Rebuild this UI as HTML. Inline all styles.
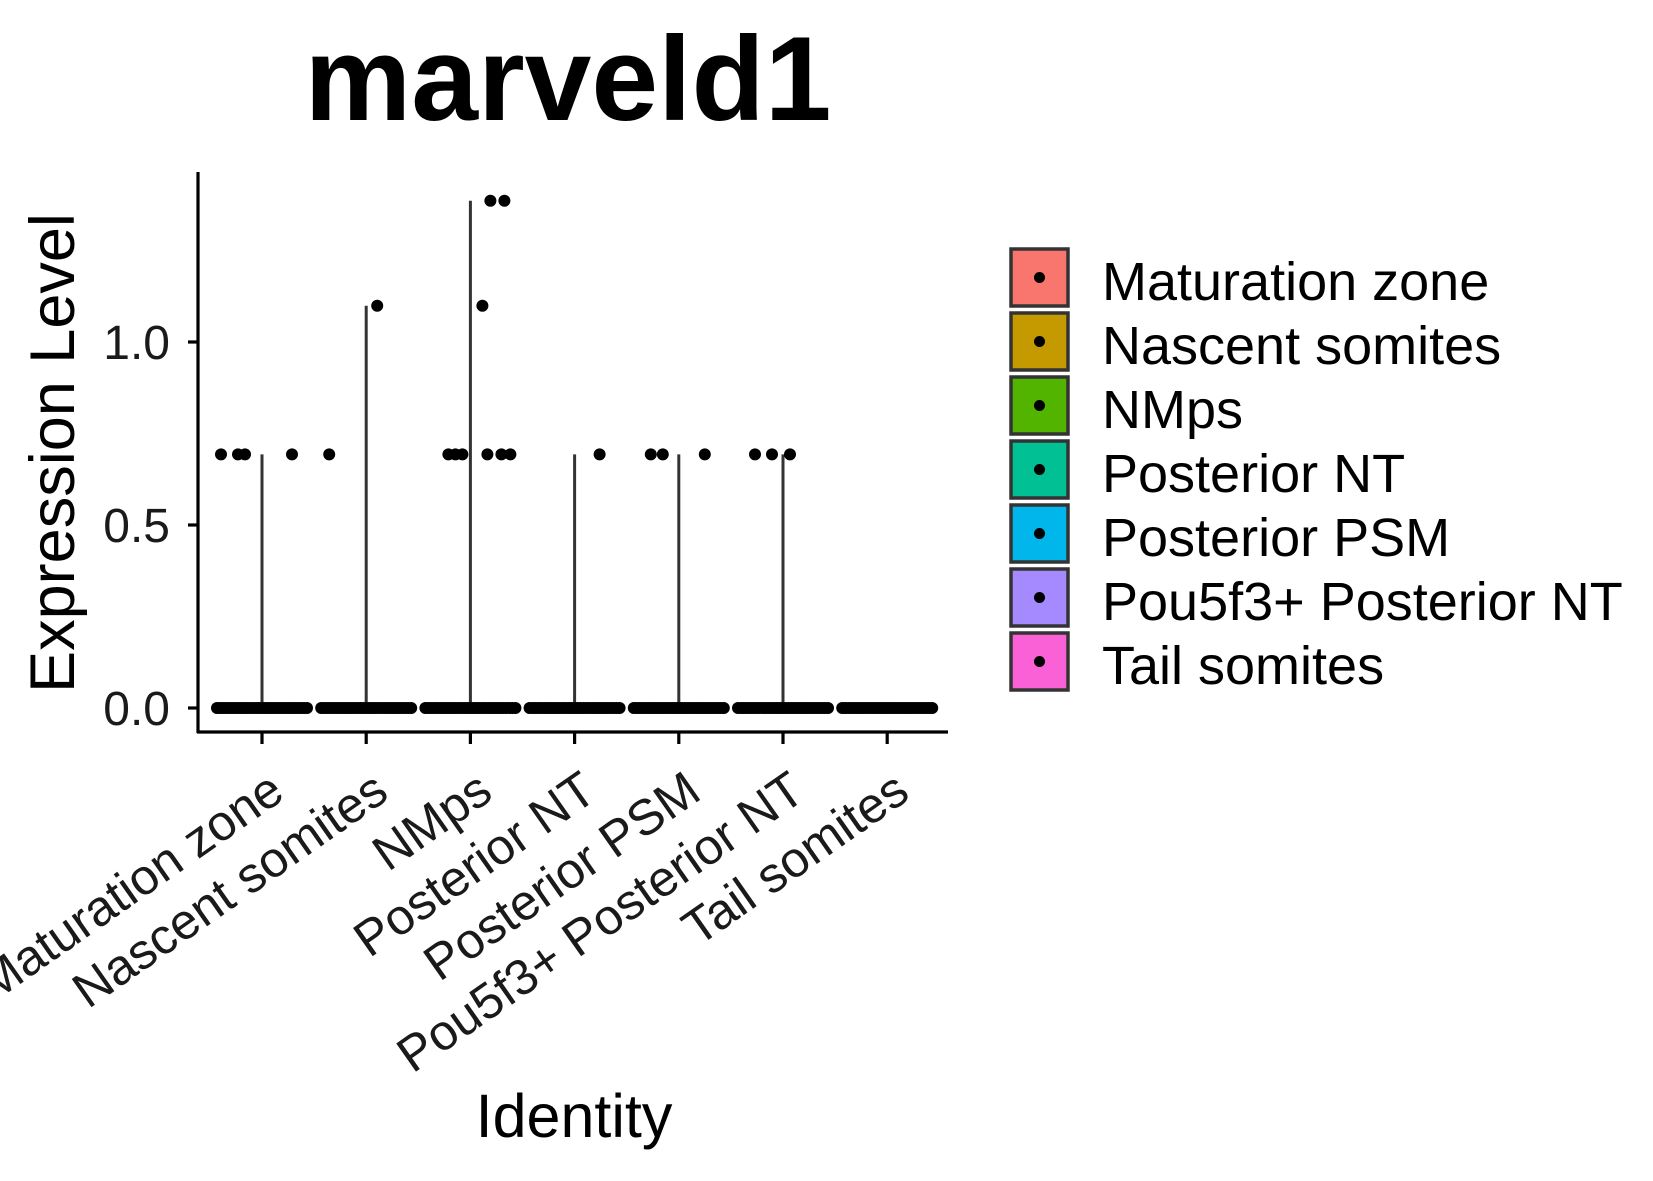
<!DOCTYPE html>
<html><head><meta charset="utf-8"><style>
html,body{margin:0;padding:0;background:#fff}
svg{display:block;font-family:"Liberation Sans",sans-serif}
</style></head><body>
<svg id="chart" width="1653" height="1181" viewBox="0 0 1653 1181">
<text x="568" y="120" font-size="120" font-weight="bold" text-anchor="middle">marveld1</text>
<g id="plot"></g>
<text transform="translate(74,453) rotate(-90)" font-size="63" text-anchor="middle">Expression Level</text>
<text x="574" y="1137" font-size="61" text-anchor="middle">Identity</text>
<g id="legend"></g>
</svg>
<script>
const categories = ["Maturation zone","Nascent somites","NMps","Posterior NT","Posterior PSM","Pou5f3+ Posterior NT","Tail somites"];
const colors = ["#F8766D","#C49A00","#53B400","#00C094","#00B6EB","#A58AFF","#FB61D7"];
const nonzeroValues = [
  [0.693,0.693,0.693,0.693],
  [0.693,1.099],
  [1.386,1.386,1.099,0.693,0.693,0.693,0.693,0.693,0.693],
  [0.693],
  [0.693,0.693,0.693],
  [0.693,0.693,0.693],
  []
];
const nonzeroJitter = [
  [-41,-24,-17,30],
  [-37,11],
  [20,34,12,-22,-15,-8,17,31,40],
  [25],
  [-28,-16,26],
  [-28,-11,7],
  []
];
const yTicks = [0, 0.5, 1.0];
const yTickLabels = ["0.0","0.5","1.0"];

const NS = "http://www.w3.org/2000/svg";
const plot = document.getElementById('plot');
const yScale = v => 708 - v * 366;
const xScale = i => 262 + i * 104.2;
function mk(tag, attrs, parent){const e=document.createElementNS(NS,tag);for(const k in attrs)e.setAttribute(k,attrs[k]);parent.appendChild(e);return e;}

const ya = mk('line',{x1:198,y1:172,x2:198,y2:733,stroke:'#000','stroke-width':3.2},plot);


const xa = mk('line',{x1:197,y1:732,x2:948,y2:732,stroke:'#000','stroke-width':3.2},plot);



yTicks.forEach((v,i)=>{
  const t = mk('line',{x1:188,y1:yScale(v),x2:198,y2:yScale(v),stroke:'#000','stroke-width':3.2},plot);
  
  
  const l = mk('text',{x:170,y:yScale(v)+17,'font-size':48,'text-anchor':'end',fill:'#1a1a1a'},plot);
  l.textContent = yTickLabels[i];
  
  
});

categories.forEach((c,i)=>{
  const cx = xScale(i);
  const t = mk('line',{x1:cx,y1:732,x2:cx,y2:744,stroke:'#000','stroke-width':3.2},plot);
  
  
  const l = mk('text',{transform:`translate(${cx+4},768) rotate(-35)`,'font-size':50,'text-anchor':'end',dy:'0.72em',fill:'#1a1a1a'},plot);
  l.textContent = c;
  
  
  const vals = nonzeroValues[i];
  const mx = vals.length ? Math.max(...vals) : 0;
  if (mx > 0) {
    const v = mk('line',{x1:cx,y1:yScale(mx),x2:cx,y2:yScale(0),stroke:'#333','stroke-width':3},plot);
    
    
  }
  for (let dx=-45; dx<=45; dx+=3) {
    const p = mk('circle',{cx:cx+dx,cy:yScale(0),r:6,fill:'#000'},plot);
    
    
  }
  vals.forEach((v,j)=>{
    const p = mk('circle',{cx:cx+nonzeroJitter[i][j],cy:yScale(v),r:6,fill:'#000'},plot);
    
    
  });
});

const legend = document.getElementById('legend');
categories.forEach((c,i)=>{
  const y = 247 + i*64;
  const g = mk('g',{},legend);
  
  
  mk('rect',{x:1011,y:y+2,width:57,height:57,fill:colors[i],stroke:'#333','stroke-width':3.5},g);
  mk('circle',{cx:1039.5,cy:y+30.5,r:5.5,fill:'#000'},g);
  const t = mk('text',{x:1102,y:y+53,'font-size':54},g);
  t.textContent = c;
});
</script>
</body></html>
